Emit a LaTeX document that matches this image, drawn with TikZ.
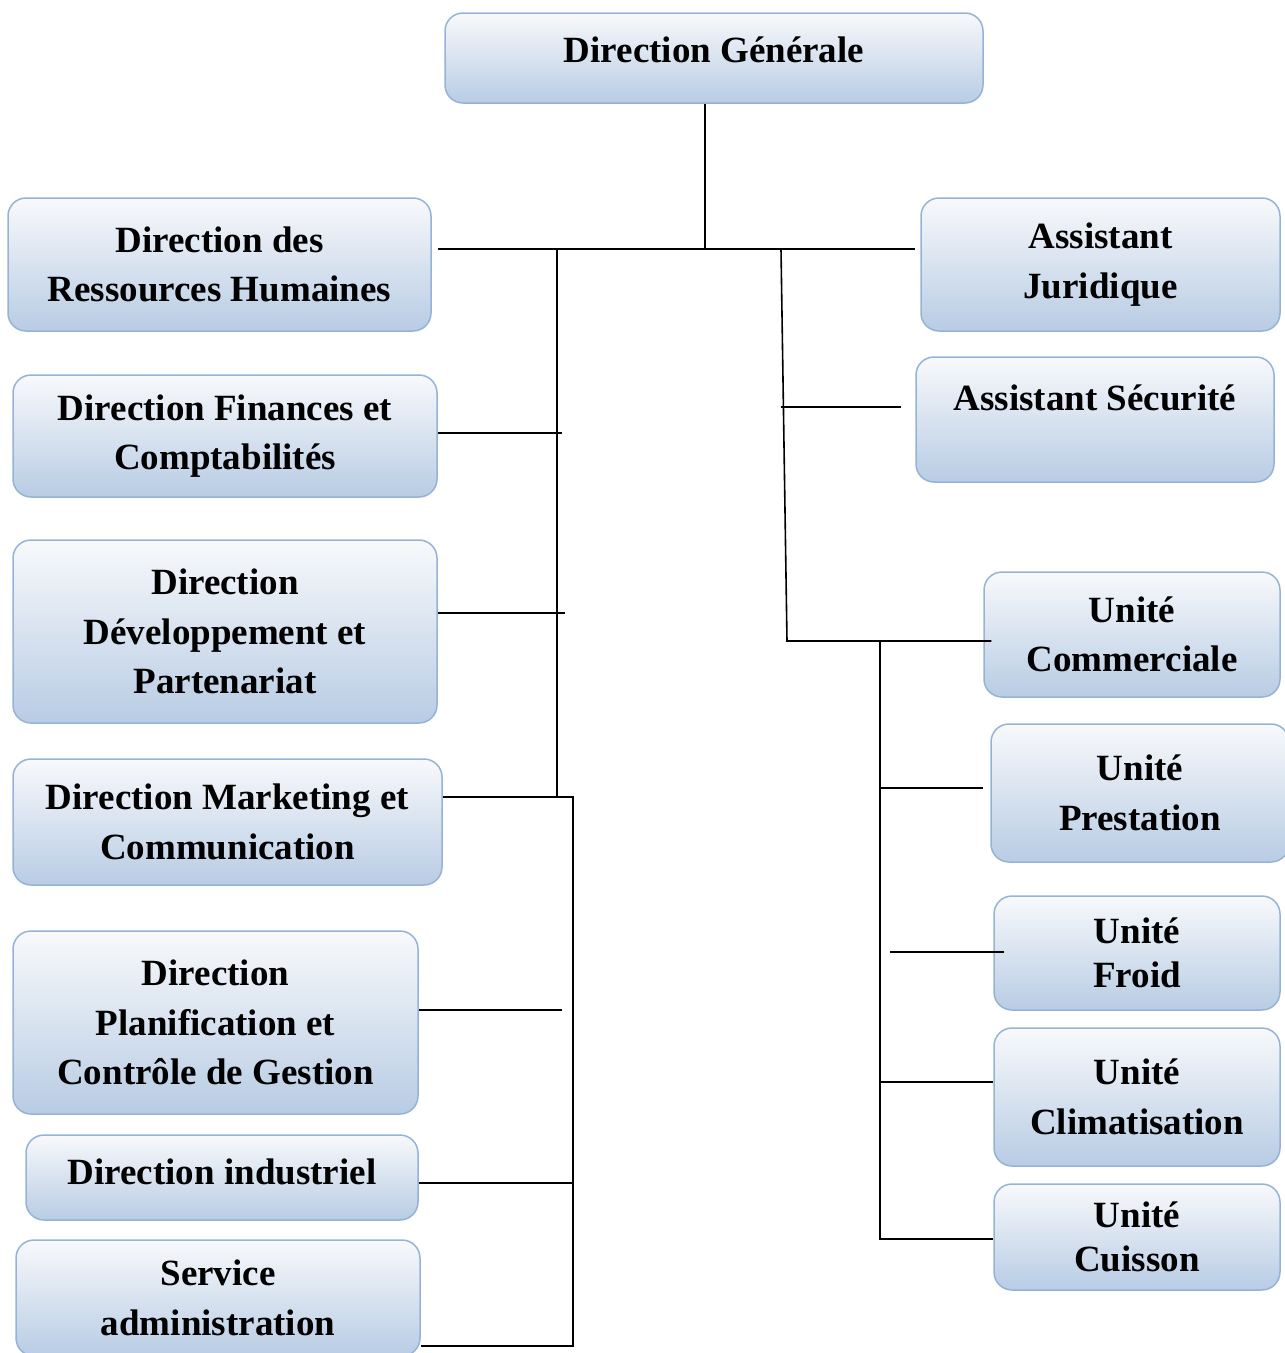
\documentclass[tikz,border=0pt]{standalone}
\usepackage{fontspec}
\setmainfont{Liberation Serif}
\usepackage{xcolor}
\usepackage{tikz}
\usetikzlibrary{positioning,calc}

\definecolor{boxtop}{HTML}{F8F9FB}
\definecolor{boxbot}{HTML}{B8CCE4}
\definecolor{boxline}{HTML}{95B3D7}

\begin{document}
\begin{tikzpicture}[
  x=1pt, y=-1pt,
  box/.style={draw=boxline, line width=1.5pt, rounded corners=18pt, top color=boxtop, bottom color=boxbot,
    align=center, inner sep=0pt, font=\bfseries\fontsize{37}{49.5}\selectfont},
  ln/.style={draw=black, line width=1.6pt}
]
\useasboundingbox (0,0) rectangle (1285,1353);

\node[box, minimum width=538pt, minimum height=90pt, text height=26pt, text depth=18pt] (dg) at (714,58) {Direction Générale};

% left column
\node[box, minimum width=423pt, minimum height=133pt] (drh) at (219.5,264.5) {Direction des\\ Ressources Humaines};
\node[box, minimum width=424pt, minimum height=122pt] (dfc) at (225,436) {Direction Finances et\\ Comptabilités};
\node[box, minimum width=424pt, minimum height=183pt] (ddp) at (225,631.5) {Direction\\ Développement et\\ Partenariat};
\node[box, minimum width=429pt, minimum height=126pt] (dmc) at (227.5,822) {Direction Marketing et\\ Communication};
\node[box, minimum width=405pt, minimum height=183pt] (dpcg) at (215.5,1022.5) {Direction\\ Planification et\\ Contrôle de Gestion};
\node[box, minimum width=392pt, minimum height=85pt, text height=26pt, text depth=13pt] (di) at (222,1177.5) {Direction industriel};
\node[box, minimum width=404pt, minimum height=116pt] (sa) at (218,1298) {Service\\ administration};

% right column
\node[box, minimum width=359pt, minimum height=133pt] (aj) at (1100.5,264.5) {Assistant\\ Juridique};
\node[box, minimum width=358pt, minimum height=125pt, text height=26pt, text depth=45pt] (as) at (1095,419.5) {Assistant Sécurité};
\node[box, minimum width=296pt, minimum height=125pt] (uc) at (1132,634.5) {Unité\\ Commerciale};
\node[box, minimum width=298pt, minimum height=138pt] (up) at (1140,793) {Unité\\ Prestation};
\node[box, minimum width=286pt, minimum height=114pt] (uf) at (1137,953) {Unité\\[-6pt] Froid};
\node[box, minimum width=286pt, minimum height=138pt] (ucl) at (1137,1097) {Unité\\ Climatisation};
\node[box, minimum width=286pt, minimum height=106pt] (ucu) at (1137,1237) {Unité\\[-6pt] Cuisson};

% junctions
\coordinate (top) at (705,249);
\coordinate (lt) at (557,249);
\coordinate (fin) at (562,433);
\coordinate (dev) at (565,613);
\coordinate (mkt) at (573,797);
\coordinate (pla) at (562,1010);
\coordinate (ind) at (573,1183);
\coordinate (adm) at (573,1346);
\coordinate (rt) at (781,249);
\coordinate (sec) at (901,407);
\coordinate (uj) at (787,641);
\coordinate (ut) at (880,641);
\coordinate (pre) at (880,788);
\coordinate (fro) at (890,952);
\coordinate (cli) at (880,1082);
\coordinate (cui) at (880,1239);

\draw[ln] (dg.south -| top) -- (top);
\draw[ln] ($(drh.east |- top)+(6,0)$) -- ($(aj.west |- top)+(-5,0)$);

\draw[ln] (lt) -- (lt |- mkt);
\draw[ln] (dfc.east |- fin) -- (fin);
\draw[ln] (ddp.east |- dev) -- (dev);
\draw[ln] (dmc.east |- mkt) -- (mkt) -- (adm) -- (sa.east |- adm);
\draw[ln] (dpcg.east |- pla) -- (pla);
\draw[ln] (di.east |- ind) -- (ind);

\draw[ln] (rt) -- (uj) -- ($(uc.west |- uj)+(8,0)$);
\draw[ln] (sec -| rt) -- (sec);
\draw[ln] (ut) -- (cui) -- (ucu.west |- cui);
\draw[ln] (pre) -- ($(up.west |- pre)+(-7,0)$);
\draw[ln] (fro) -- ($(uf.west |- fro)+(11,0)$);
\draw[ln] (cli) -- (ucl.west |- cli);
\end{tikzpicture}
\end{document}
